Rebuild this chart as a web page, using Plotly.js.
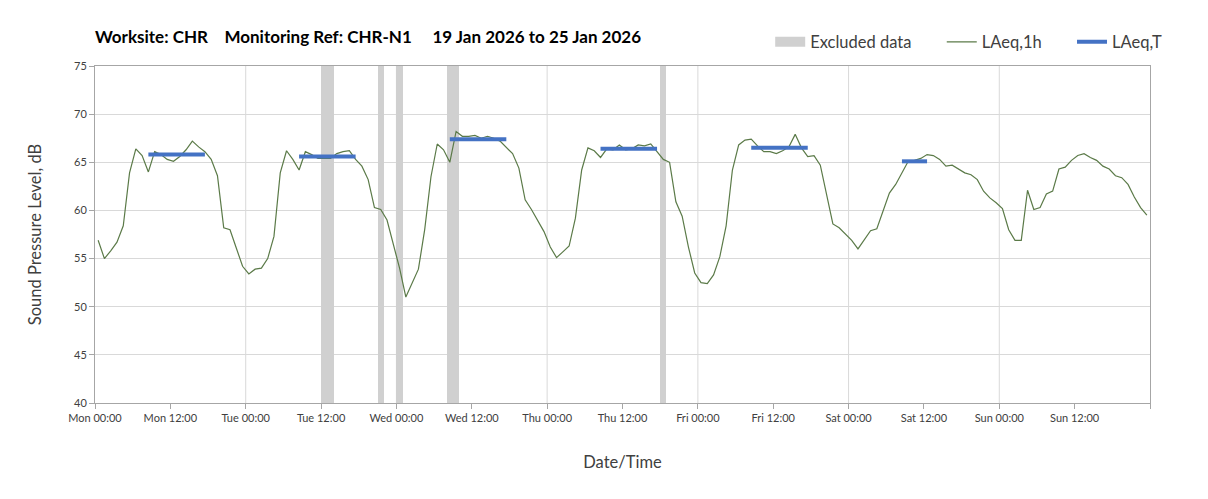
<!DOCTYPE html>
<html>
<head>
<meta charset="utf-8">
<script src="https://cdn.plot.ly/plotly-3.0.1.min.js"></script>
<style>
  body { margin: 0; background: #fff; }
  #chart { width: 1208px; height: 499px; }
</style>
</head>
<body>
<div id="chart"></div>
<script>
// hourly LAeq values, Mon 00:00 .. Sun 23:00 (plotted mid-hour)
const laeq1h = [
  56.9, 55.0, 55.8, 56.7, 58.4, 63.9, 66.4, 65.7, 64.0, 66.1, 65.8, 65.3,
  65.1, 65.6, 66.3, 67.2, 66.6, 66.1, 65.3, 63.6, 58.2, 58.0, 56.1, 54.2,
  53.4, 53.9, 54.0, 55.0, 57.3, 63.9, 66.2, 65.3, 64.2, 66.1, 65.8, 65.4,
  65.4, 65.4, 65.9, 66.1, 66.2, 65.3, 64.6, 63.2, 60.3, 60.1, 59.0, 56.6,
  54.0, 51.0, 52.5, 53.9, 58.0, 63.5, 66.9, 66.3, 65.0, 68.2, 67.7, 67.7,
  67.8, 67.5, 67.7, 67.5, 67.2, 66.5, 65.9, 64.4, 61.1, 60.1, 59.0, 57.8,
  56.2, 55.1, 55.7, 56.3, 59.2, 64.2, 66.5, 66.2, 65.5, 66.4, 66.3, 66.8,
  66.3, 66.4, 66.8, 66.7, 66.9, 66.1, 65.3, 65.0, 60.9, 59.4, 56.2, 53.5,
  52.5, 52.4, 53.3, 55.2, 58.4, 64.2, 66.8, 67.3, 67.4, 66.7, 66.1, 66.1,
  65.9, 66.2, 66.6, 67.9, 66.5, 65.6, 65.7, 64.7, 61.5, 58.6, 58.2, 57.6,
  56.9, 56.0, 56.9, 57.9, 58.1, 59.9, 61.8, 62.7, 63.9, 65.1, 65.2, 65.4,
  65.8, 65.7, 65.3, 64.6, 64.7, 64.3, 63.9, 63.7, 63.2, 62.0, 61.3, 60.8,
  60.2, 58.0, 56.9, 56.9, 62.1, 60.1, 60.3, 61.7, 62.0, 64.3, 64.5, 65.2,
  65.7, 65.9, 65.5, 65.2, 64.6, 64.3, 63.6, 63.4, 62.7, 61.4, 60.3, 59.5
];

// LAeq,T periods (hours from Mon 00:00)
const periodStart = [8.5, 32.5, 56.5, 80.5, 104.5, 128.5];
const periodEnd   = [17.5, 41.5, 65.5, 89.5, 113.5, 132.5];
const periodLevel = [65.8, 65.6, 67.4, 66.4, 66.5, 65.1];

// excluded data periods (hours from Mon 00:00)
const exclStart = [36, 45, 48, 56, 90];
const exclEnd   = [38, 46, 49, 58, 91];

const dayNames = ['Mon', 'Tue', 'Wed', 'Thu', 'Fri', 'Sat', 'Sun'];

const t0 = Date.UTC(2026, 0, 19);
const HOUR = 3600000;
const at = h => new Date(t0 + h * HOUR).toISOString().slice(0, 19);

const lineX = laeq1h.map((v, i) => at(i + 0.5));

const segX = [], segY = [];
periodStart.forEach((s, i) => {
  segX.push(at(s), at(periodEnd[i]), null);
  segY.push(periodLevel[i], periodLevel[i], null);
});

const exclX = exclStart.map((s, i) => at((s + exclEnd[i]) / 2));
const exclW = exclStart.map((s, i) => (exclEnd[i] - s) * HOUR);

const tickVals = [], tickText = [];
for (let h = 0; h <= 168; h += 12) {
  tickVals.push(at(h));
  tickText.push(h < 168 ? dayNames[Math.floor(h / 24)] + ' ' + (h % 24 === 0 ? '00:00' : '12:00') : '');
}

const dayLines = [];
for (let d = 1; d < 7; d++) {
  dayLines.push({
    type: 'line', xref: 'x', yref: 'paper', x0: at(d * 24), x1: at(d * 24), y0: 0, y1: 1,
    line: { color: '#d9d9d9', width: 1 }, layer: 'below'
  });
}

const nb = '\u00A0';
const pad = nb.repeat(6); // wider gaps between legend entries

const traces = [
  {
    type: 'bar', name: 'Excluded data', x: exclX, y: exclX.map(() => 35), base: 40,
    width: exclW, marker: { color: '#d0d0d0', line: { width: 0 } }, hoverinfo: 'skip',
    showlegend: false
  },
  // legend key for the excluded bars (wide grey block)
  {
    type: 'scatter', mode: 'lines', name: 'Excluded data' + pad, x: [null], y: [null],
    line: { color: '#d0d0d0', width: 12 }
  },
  {
    type: 'scatter', mode: 'lines', name: 'LAeq,1h' + pad, x: lineX, y: laeq1h,
    line: { color: '#5b7a48', width: 1.2 }
  },
  {
    type: 'scatter', mode: 'lines', name: 'LAeq,T', x: segX, y: segY,
    line: { color: '#4472c4', width: 4 }, connectgaps: false
  }
];

const layout = {
  width: 1208, height: 499,
  margin: { l: 95, r: 58, t: 66, b: 96 },
  paper_bgcolor: '#fff', plot_bgcolor: '#fff',
  font: { family: 'Lato, "Open Sans", sans-serif', color: '#404040', size: 11 },
  title: {
    text: '<b>Worksite: CHR' + nb.repeat(4) + 'Monitoring Ref: CHR-N1' + nb.repeat(5) + '19 Jan 2026 to 25 Jan 2026</b>',
    font: { size: 17, color: '#000' },
    x: 95 / 1208, xanchor: 'left', xref: 'container',
    y: 1 - 37 / 499, yanchor: 'middle', yref: 'container'
  },
  showlegend: true,
  legend: {
    orientation: 'h', x: 0.64, xanchor: 'left', y: 1.071, yanchor: 'middle',
    font: { size: 16.5, color: '#404040' }, traceorder: 'normal',
    bgcolor: 'rgba(0,0,0,0)'
  },
  bargap: 0,
  xaxis: {
    type: 'date', range: [at(0), at(168)],
    tickvals: tickVals, ticktext: tickText, tickangle: 0,
    ticks: 'outside', ticklen: 5, tickcolor: '#a6a6a6',
    showgrid: false, zeroline: false,
    showline: true, linecolor: '#a6a6a6', mirror: true,
    tickfont: { size: 11, color: '#404040' },
    title: { text: 'Date/Time', font: { size: 16.5, color: '#404040' }, standoff: 33 }
  },
  yaxis: {
    range: [40, 75], dtick: 5, tick0: 40,
    ticks: 'outside', ticklen: 5, tickcolor: '#a6a6a6',
    showgrid: true, gridcolor: '#d9d9d9', zeroline: false,
    showline: true, linecolor: '#a6a6a6', mirror: true,
    tickfont: { size: 11, color: '#404040' },
    title: { text: 'Sound Pressure Level, dB', font: { size: 16.5, color: '#404040' }, standoff: 28 }
  },
  shapes: dayLines
};

Plotly.newPlot('chart', traces, layout, { displayModeBar: false, staticPlot: true });
</script>
</body>
</html>
